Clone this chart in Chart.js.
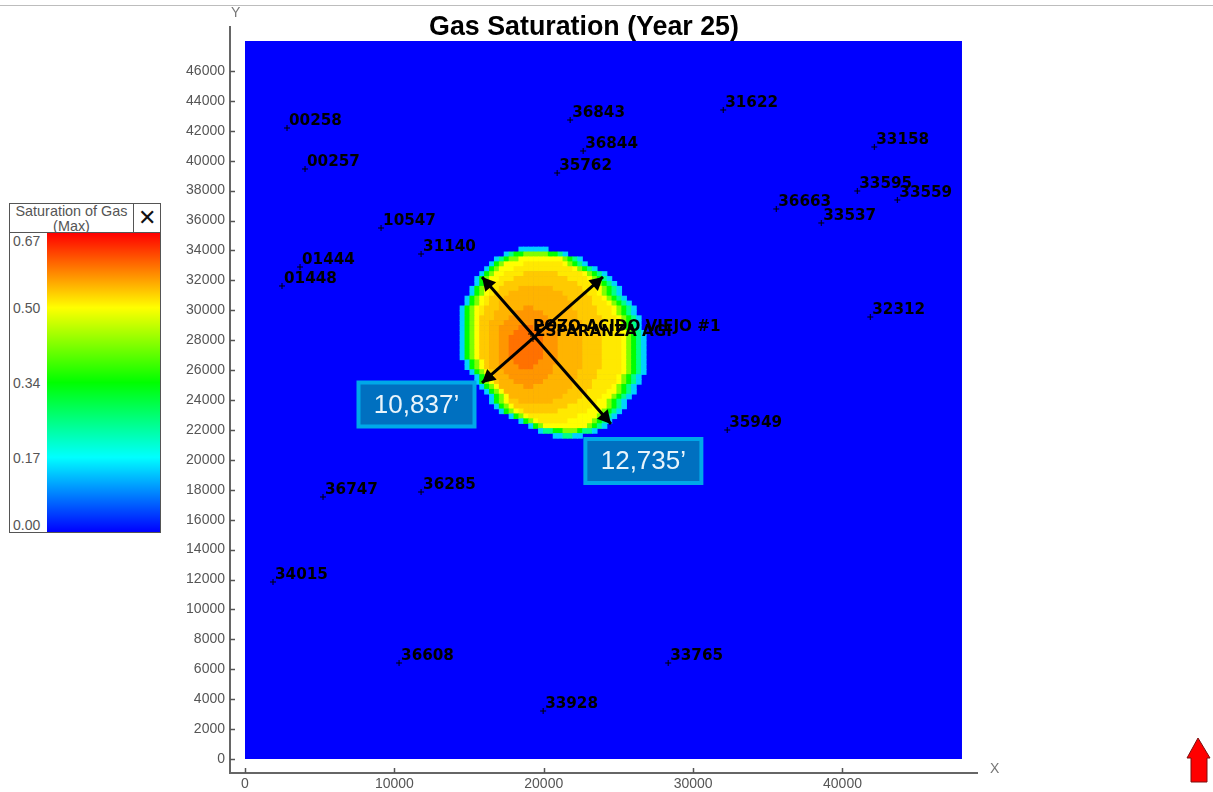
<!DOCTYPE html>
<html>
<head>
<meta charset="utf-8">
<title>Gas Saturation (Year 25)</title>
<script src="https://cdn.jsdelivr.net/npm/chart.js@4"></script>
<style>
  body { margin: 0; background: #fff; font-family: "Liberation Sans", Arial, sans-serif; }
  #page { position: relative; width: 1213px; height: 792px; overflow: hidden; }
  canvas { position: absolute; left: 0; top: 0; }
  .topline { position: absolute; left: 0; top: 5px; width: 1213px; height: 1px; background: #bdbdbd; }
  .axisname { position: absolute; color: #777; font-size: 14px; line-height: 14px; }
  #panel { position: absolute; left: 9px; top: 203px; width: 152px; height: 330px; border: 1px solid #555; box-sizing: border-box; background: #fff; color: #555; font-size: 14px; }
  #panelhead { position: absolute; left: 0; top: 0; width: 123px; height: 28px; border-bottom: 1px solid #555; border-right: 1px solid #555; text-align: center; line-height: 15px; overflow: hidden; font-size: 14.4px; white-space: nowrap; }
  #panelclose { position: absolute; left: 124px; top: 0; width: 26px; height: 28px; border-bottom: 1px solid #555; text-align: center; color: #111; font-size: 22px; line-height: 27px; }
  #bar { position: absolute; left: 37px; top: 29px; width: 113px; height: 299px; }
  .lev { position: absolute; left: 3px; line-height: 14px; }
  #north { position: absolute; left: 1185px; top: 736px; }
</style>
</head>
<body>
<div id="page">
  <canvas id="grafico" width="1213" height="792"></canvas>
  <div class="topline"></div>
  <div class="axisname" style="left:231px;top:5px">Y</div>
  <div class="axisname" style="left:990px;top:761px">X</div>
  <div id="panel">
    <div id="panelhead">Saturation of Gas<br>(Max)</div>
    <div id="panelclose">&#10005;</div>
    <div id="bar"></div>
    <div class="lev" style="top:30px">0.67</div>
    <div class="lev" style="top:97px">0.50</div>
    <div class="lev" style="top:172px">0.34</div>
    <div class="lev" style="top:247px">0.17</div>
    <div class="lev" style="top:314px">0.00</div>
  </div>
  <svg id="north" width="27" height="48">
    <path d="M13 2 L2 22 L6 22 L6 46 L22 46 L22 22 L25 22 Z" fill="#ff0000" stroke="#7a1010" stroke-width="1"/>
  </svg>
</div>

<script>
// Eixos
const xTicks = [0, 10000, 20000, 30000, 40000];
const yTicks = [0, 2000, 4000, 6000, 8000, 10000, 12000, 14000, 16000, 18000, 20000, 22000, 24000,
    26000, 28000, 30000, 32000, 34000, 36000, 38000, 40000, 42000, 44000, 46000];

// Area do modelo (pes)
const domainSize = 48000;

// Escala de cores da saturacao
const satStops = [0, 0.17, 0.34, 0.50, 0.67];
const satColors = [[0, 0, 255], [0, 255, 255], [0, 255, 0], [255, 255, 0], [255, 0, 0]];

// Pocos
const wellNames = ["00258", "00257", "10547", "31140", "01444", "01448", "36843", "36844", "35762", "31622",
    "33158", "33595", "33559", "36663", "33537", "32312", "POZO ACIDO VIEJO #1", "ESPARANZA AGI",
    "35949", "36285", "36747", "34015", "36608", "33765", "33928"];
const wellX = [2813, 4019, 9109, 11788, 3684, 2478, 21768, 22639, 20897, 32016,
    42130, 40991, 43671, 35566, 38580, 41862, 19147, 19281,
    32284, 11788, 5224, 1875, 10315, 28332, 19960];
const wellY = [42188, 39447, 35502, 33763, 32894, 31624, 42722, 40650, 39179, 43391,
    40918, 37976, 37374, 36772, 35836, 29551, 28415, 28081,
    21996, 17851, 17517, 11834, 6418, 6418, 3209];

// Celulas da pluma: cada linha e uma fileira da malha, cada caractere um nivel
const cellSize = 328;
const plumeLeft = 14394;
const plumeTop = 34232;
const satLevels = { "1": 0.14, "2": 0.25, "3": 0.34, "4": 0.42, "5": 0.50, "6": 0.515, "7": 0.535, "8": 0.55, "9": 0.57, "a": 0.595 };
const plumeRows = [
    "000000000000 111111",
    "000000000 1233444443321",
    "0000000 12344 55555555 54321",
    "000000 1345 555 66666666 54321",
    "00000 1345 55 666666666666 54321",
    "0000 1345 5 6666 7777777 66666 54321",
    "000 1345 5 666 77777777777 6666 54321",
    "000 1345 66 777777777777777 666 54321",
    "00 1345 66 7777 8888888 777777 666 54321",
    "00 1345 6 777 88888888888 77777 66 54321",
    "0 1345 6 777 8888888888888 77777 66 54321",
    "0 1345 6 77 888888888888888 7777 666 54321",
    "1345 6 777 88888 99 88888888 77777 666 54321",
    "1345 6 77 8888 999999 8888888 7777 666 54321",
    "1345 777 888 99999999 888888 77777 666 54321",
    "1345 77 888 9999999999 888888 7777 666 54321",
    "1345 77 88 9999 aaa 9999 888888 7777 666 54321",
    "1345 77 88 999 aaaaa 9999 88888 7777 6666 54321",
    "1345 77 88 99 aaaaaaa 999 88888 7777 6666 54321",
    "1345 77 88 99 aaaaaaa 999 88888 7777 6666 54321",
    "1345 77 88 99 aaaaaaa 999 88888 7777 6666 54321",
    "1345 77 88 99 aaaaaaa 999 88888 7777 6666 54321",
    "1345 77 88 99 aaaaaaa 999 88888 7777 6666 54321",
    "0 1345 7 88 999 aaaaa 9999 88888 7777 6666 54321",
    "0 1345 7 88 9999 aaa 9999 888888 7777 6666 54321",
    "00 1345 7 88 9999999999 88888 7777 66666 54321",
    "000 1345 888 99999999 888888 7777 6666 54321",
    "000 1345 7 888 999999 888888 7777 66666 54321",
    "0000 1345 88888 99 88888888 7777 6666 54321",
    "00000 1345 8888888888888 7777 6666 5 54321",
    "000000 1345 88888888888 7777 6666 5 54321",
    "000000 1345 77 8888888 77777 6666 5 54321",
    "0000000 1345 77777777777 66666 55 54321",
    "00000000 1345 6 7777777 666666 55 54321",
    "0000000000 1345 6666666666 555 54321",
    "000000000000 1345 666666 5555 54321",
    "00000000000000 1345 5555555 54321",
    "0000000000000000 122334443221",
    "0000000000000000000 112211"
];

// Setas e caixas de medida
const arrowsFrom = [[15867, 32226], [23967, 32226]];
const arrowsTo = [[24503, 22397], [15867, 25139]];
const boxTexts = ["10,837\u2019", "12,735\u2019"];
const boxX = [11482, 26669];
const boxY = [23701, 19924];

// Converte saturacao em cor
function corSaturacao(sat) {
    let i = 0;
    while (i < satStops.length - 2 && sat > satStops[i + 1]) i++;
    const t = (sat - satStops[i]) / (satStops[i + 1] - satStops[i]);
    const c = satColors[i].map((v, k) => Math.round(v + (satColors[i + 1][k] - v) * t));
    return `rgb(${c[0]},${c[1]},${c[2]})`;
}

// Monta as celulas da pluma
const plumeCells = [];
plumeRows.forEach((row, r) => {
    row.replace(/ /g, "").split("").forEach((ch, c) => {
        if (ch === "0") return;
        plumeCells.push({
            x: plumeLeft + (c + 0.5) * cellSize,
            y: plumeTop - (r + 0.5) * cellSize,
            sat: satLevels[ch]
        });
    });
});

// Barra da legenda
document.getElementById("bar").style.background = "linear-gradient(to top, " +
    satColors.map(c => `rgb(${c[0]},${c[1]},${c[2]})`).join(", ") + ")";

// Marcas dos eixos para dentro, textos e setas por cima do mapa
const anotacoes = {
    id: "anotacoes",
    afterDatasetsDraw(chart) {
        const ctx = chart.ctx;
        const sx = chart.scales.x;
        const sy = chart.scales.y;
        const area = chart.chartArea;
        ctx.save();

        // Marcas dos eixos
        ctx.strokeStyle = "#555";
        ctx.lineWidth = 1.5;
        yTicks.forEach(v => {
            const y = Math.round(sy.getPixelForValue(v)) + 0.5;
            ctx.beginPath();
            ctx.moveTo(area.left, y);
            ctx.lineTo(area.left + 5, y);
            ctx.stroke();
        });
        xTicks.forEach(v => {
            const x = Math.round(sx.getPixelForValue(v)) + 0.5;
            ctx.beginPath();
            ctx.moveTo(x, area.bottom);
            ctx.lineTo(x, area.bottom - 5);
            ctx.stroke();
        });

        // Setas
        ctx.strokeStyle = "#000";
        ctx.fillStyle = "#000";
        ctx.lineWidth = 3;
        function ponta(x, y, ang) {
            ctx.beginPath();
            ctx.moveTo(x, y);
            ctx.lineTo(x - 15 * Math.cos(ang - 0.5), y - 15 * Math.sin(ang - 0.5));
            ctx.lineTo(x - 15 * Math.cos(ang + 0.5), y - 15 * Math.sin(ang + 0.5));
            ctx.closePath();
            ctx.fill();
        }
        arrowsFrom.forEach((de, i) => {
            const x1 = sx.getPixelForValue(de[0]);
            const y1 = sy.getPixelForValue(de[1]);
            const x2 = sx.getPixelForValue(arrowsTo[i][0]);
            const y2 = sy.getPixelForValue(arrowsTo[i][1]);
            const ang = Math.atan2(y2 - y1, x2 - x1);
            ctx.beginPath();
            ctx.moveTo(x1, y1);
            ctx.lineTo(x2, y2);
            ctx.stroke();
            ponta(x2, y2, ang);
            ponta(x1, y1, ang + Math.PI);
        });

        // Nomes dos pocos
        ctx.fillStyle = "#000";
        ctx.font = 'bold 15.2px "DejaVu Sans"';
        ctx.textAlign = "left";
        ctx.textBaseline = "middle";
        wellNames.forEach((nome, i) => {
            ctx.fillText(nome, sx.getPixelForValue(wellX[i]) + 2, sy.getPixelForValue(wellY[i]) - 7);
        });

        // Caixas de medida
        boxTexts.forEach((txt, i) => {
            const cx = sx.getPixelForValue(boxX[i]);
            const cy = sy.getPixelForValue(boxY[i]);
            ctx.fillStyle = "#0070c0";
            ctx.strokeStyle = "#00a8e8";
            ctx.lineWidth = 4;
            ctx.fillRect(cx - 58, cy - 22, 116, 44);
            ctx.strokeRect(cx - 58, cy - 22, 116, 44);
            ctx.fillStyle = "#e8f4fb";
            ctx.font = '26px "Liberation Sans"';
            ctx.textAlign = "center";
            ctx.fillText(txt, cx, cy + 1);
        });

        // Titulo
        ctx.fillStyle = "#000";
        ctx.font = 'bold 26.8px "Liberation Sans"';
        ctx.textAlign = "center";
        ctx.fillText("Gas Saturation (Year 25)", 584, 28);
        ctx.restore();
    }
};

new Chart(document.getElementById("grafico").getContext("2d"), {
    type: "scatter",
    data: {
        datasets: [
            {
                label: "Poços",
                data: wellNames.map((n, i) => ({ x: wellX[i], y: wellY[i] })),
                pointStyle: "cross",
                pointRadius: 3,
                pointBorderWidth: 1,
                pointBorderColor: "#000",
                order: 0
            },
            {
                label: "Saturation of Gas",
                data: plumeCells,
                pointStyle: "rect",
                pointRadius: ctx => {
                    const s = ctx.chart.scales.x;
                    return (s.getPixelForValue(cellSize) - s.getPixelForValue(0)) / Math.SQRT2 + 0.5;
                },
                pointBorderWidth: 0,
                pointBackgroundColor: plumeCells.map(c => corSaturacao(c.sat)),
                order: 1
            },
            {
                label: "Domínio",
                data: [{ x: 0, y: domainSize }, { x: domainSize, y: domainSize }],
                showLine: true,
                fill: "origin",
                backgroundColor: "#0000ff",
                borderWidth: 0,
                pointRadius: 0,
                order: 2
            }
        ]
    },
    options: {
        responsive: false,
        animation: false,
        events: [],
        layout: { padding: { left: 0, right: 236, top: 27, bottom: 0 } },
        plugins: { legend: { display: false }, tooltip: { enabled: false } },
        scales: {
            x: {
                type: "linear",
                min: -1004,
                max: 49005,
                afterBuildTicks: s => { s.ticks = xTicks.map(v => ({ value: v })); },
                afterFit: s => { s.height = 19; },
                border: { color: "#666", width: 2 },
                grid: { drawOnChartArea: false, drawTicks: false },
                ticks: { color: "#555", font: { family: "Liberation Sans", size: 14 }, padding: 3, maxRotation: 0, autoSkip: false, callback: v => String(v) }
            },
            y: {
                type: "linear",
                min: -936,
                max: 48940,
                afterBuildTicks: s => { s.ticks = yTicks.map(v => ({ value: v })); },
                afterFit: s => { s.width = 230; },
                border: { color: "#666", width: 2 },
                grid: { drawOnChartArea: false, drawTicks: false },
                ticks: { color: "#555", font: { family: "Liberation Sans", size: 14 }, padding: 5, autoSkip: false, callback: v => String(v) }
            }
        }
    },
    plugins: [anotacoes]
});
</script>
</body>
</html>
